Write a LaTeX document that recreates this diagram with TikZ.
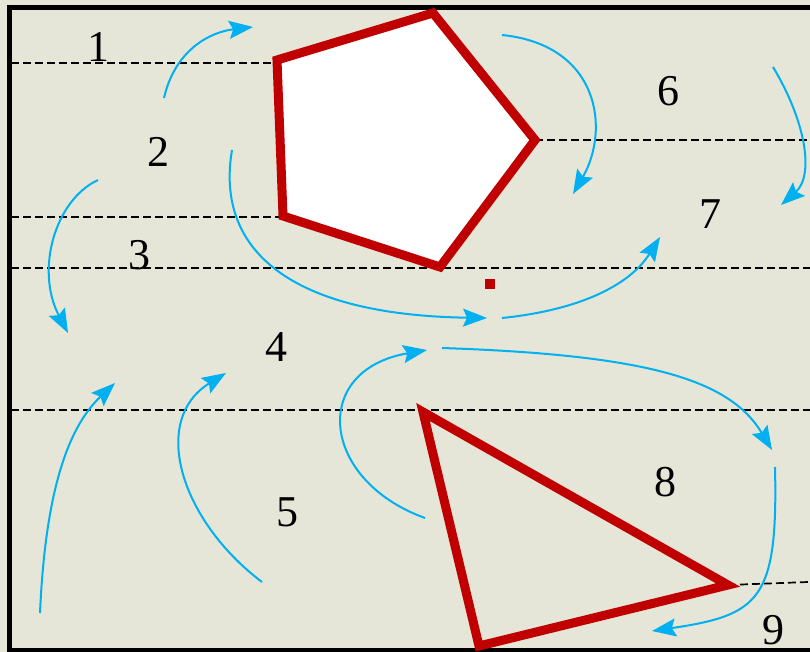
\documentclass[tikz,border=0pt]{standalone}
\usepackage{fontspec}
\setmainfont{Liberation Serif}
\usetikzlibrary{arrows.meta}
\definecolor{paper}{RGB}{229,229,216}
\definecolor{wallred}{RGB}{192,0,0}
\definecolor{flowblue}{RGB}{0,176,240}
\begin{document}
\begin{tikzpicture}[x=1pt,y=-1pt,
    flow/.style={flowblue,line width=2pt,-{Stealth[length=24pt,width=18pt,inset=4pt]}},
    cut/.style={line width=1.7pt,dash pattern=on 8pt off 4pt},
    wall/.style={wallred,line width=9pt,line join=miter},
    zone/.style={font=\fontsize{44}{44}\selectfont}]
			\useasboundingbox (0,0) rectangle (810,652);
			\fill[paper] (0,0) rectangle (810,652);
			\draw[line width=5pt] (810,8) -- (9,8) -- (9,650) -- (810,650);
			% dividing lines
			\draw[cut] (11,63) -- (277,63);
			\draw[cut] (11,217) -- (283,217);
			\draw[cut] (11,268) -- (810,268);
			\draw[cut] (535,140) -- (810,140);
			\draw[cut] (11,410) -- (810,410);
			\draw[cut] (728,585) -- (808,582);
			% bodies
			\draw[wall,fill=white] (277,60) -- (433,13) -- (535,140) -- (440,267) -- (283,216) -- cycle;
			\draw[wall] (423,412) -- (728,585) -- (479,646) -- cycle;
			\fill[wallred] (485,279) rectangle (495,289);
			% flow
			\draw[flow] (164,98) .. controls (175,50) and (210,32) .. (253,27);
			\draw[flow] (98,180) .. controls (55,200) and (35,270) .. (68,333);
			\draw[flow] (232,150) .. controls (215,250) and (290,315) .. (487,318);
			\draw[flow] (502,318) .. controls (580,310) and (630,285) .. (660,237);
			\draw[flow] (502,35) .. controls (600,45) and (610,130) .. (573,194);
			\draw[flow] (773,67) .. controls (805,120) and (815,175) .. (781,205);
			\draw[flow] (40,613) .. controls (45,500) and (65,430) .. (115,383);
			\draw[flow] (262,582) .. controls (180,520) and (150,420) .. (226,373);
			\draw[flow] (425,518) .. controls (320,480) and (310,370) .. (427,350);
			\draw[flow] (442,348) .. controls (650,355) and (730,380) .. (772,450);
			\draw[flow] (775,467) .. controls (778,600) and (760,615) .. (652,631);
			% zones
			\node[zone] (z1) at (98,47) {1};
			\node[zone] (z2) at (158,152) {2};
			\node[zone] (z3) at (139,255) {3};
			\node[zone] (z4) at (276,347) {4};
			\node[zone] (z5) at (287,512) {5};
			\node[zone] (z6) at (668,91) {6};
			\node[zone] (z7) at (710,214) {7};
			\node[zone] (z8) at (665,482) {8};
			\node[zone] (z9) at (773,630) {9};
		\end{tikzpicture}
\end{document}
